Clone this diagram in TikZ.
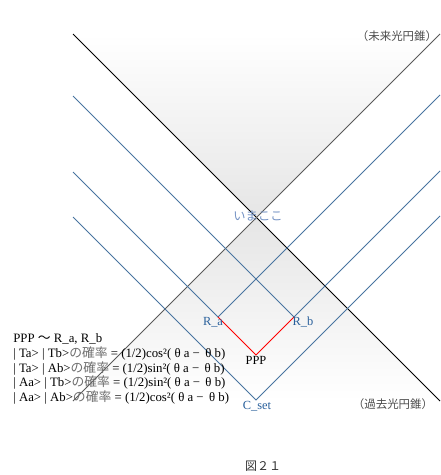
\documentclass[tikz,border=0pt]{standalone}
\usepackage{fontspec}
\setmainfont{Liberation Serif}
\newfontfamily\jp{Noto Sans CJK JP}
\usepackage{xcolor}
\usepackage{tikz}
\usetikzlibrary{positioning}
\definecolor{worldblue}{RGB}{72,116,160}
\definecolor{labelblue}{RGB}{40,95,155}
\definecolor{nowblue}{RGB}{115,145,195}
\definecolor{jpgray}{RGB}{110,110,110}

\begin{document}
\begin{tikzpicture}[x=0.75pt, y=-0.75pt,
    cone/.style={line width=0.75pt},
    world/.style={draw=worldblue, line width=0.65pt},
    ptlabel/.style={inner sep=0pt, font=\fontsize{9.3}{11}\selectfont},
    conelabel/.style={inner sep=0pt, text=black!70, font=\jp\fontsize{8.6}{10}\selectfont}]
        \useasboundingbox (0,0) rectangle (440,475);
        \coordinate (now) at (256.5,217.5);
        \coordinate (futL) at (73,34);
        \coordinate (futR) at (440,34);
        \coordinate (pastL) at (73,401);
        \coordinate (pastR) at (440,401);
        % light cones
        \shade[top color=white, bottom color=gray!20] (futL) -- (futR) -- (now) -- cycle;
        \shade[top color=gray!20, bottom color=white] (now) -- (pastR) -- (pastL) -- cycle;
        \draw[cone, black] (futL) -- (pastR);
        \draw[cone, black!65] (futR) -- (pastL);
        \coordinate (PPP) at (256,355);
        \coordinate (Ra) at (218,317);
        \coordinate (Rb) at (294,317);
        \coordinate (Cset) at (256,400);
        \foreach \p/\yl/\yr in {Ra/172/95, Rb/96/171, Cset/217/216} {
            \coordinate (\p L) at (73,\yl);
            \coordinate (\p R) at (440,\yr);
            \draw[world] (\p L) -- (\p) -- (\p R);
        }
        \draw[red, line width=0.65pt] (Ra) -- (PPP) -- (Rb);  % PPP pair
        \node[ptlabel, text=labelblue] (ra) at (213,322) {R\_a};
        \node[ptlabel, text=labelblue] (rb) at (303,322) {R\_b};
        \node[ptlabel] (ppp) at (256,360) {PPP};
        \node[ptlabel, text=labelblue] (cset) at (257,406) {C\_set};
        \node[inner sep=0pt, text=nowblue, font=\jp\fontsize{9.2}{11}\selectfont] (here) at (258,216) {いまここ};
        \node[conelabel] (future) at (397,36) {（未来光円錐）};
        \node[conelabel] (past) at (393,404) {（過去光円錐）};
        \node[anchor=west, align=left, inner sep=0pt, font=\fontsize{9.6}{10.9}\selectfont] (probs) at (13,369)
            {PPP {\jp ～} R\_a, R\_b\\
             | Ta> | Tb>{\jp\color{jpgray}の確率} = (1/2)cos²( θ a −\, θ b)\\
             | Ta> | Ab>{\jp\color{jpgray}の確率} = (1/2)sin²( θ a −\, θ b)\\
             | Aa> | Tb>{\jp\color{jpgray}の確率} = (1/2)sin²( θ a −\, θ b)\\
             | Aa> | Ab>{\jp\color{jpgray}の確率} = (1/2)cos²( θ a −\, θ b)};
        \node[inner sep=0pt, text=black!80, font=\jp\fontsize{9}{11}\selectfont] (caption) at (263,466) {図２１};
    \end{tikzpicture}
\end{document}
